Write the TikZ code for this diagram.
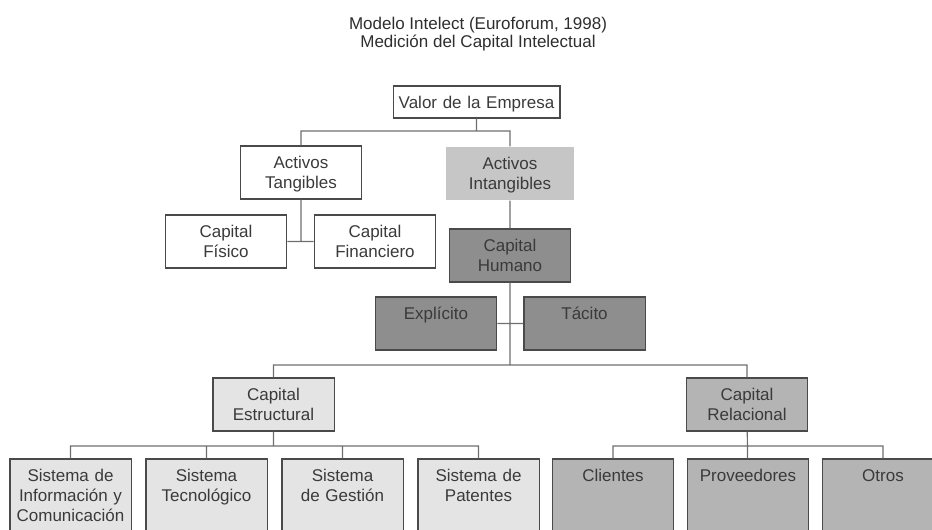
\documentclass[tikz,border=0pt]{standalone}
\usepackage{fontspec}
\setmainfont{Liberation Sans}
\usetikzlibrary{
  positioning, % for relative positioning of the boxes
}
\definecolor{borde}{HTML}{4A4A4A}
\definecolor{linea}{HTML}{6E6E6E}
\definecolor{texto}{HTML}{3A3A3A}
\definecolor{claro}{HTML}{E4E4E4}
\definecolor{medio}{HTML}{B4B4B4}
\definecolor{oscuro}{HTML}{8E8E8E}
\definecolor{intang}{HTML}{C6C6C6}
\tikzset{
  caja/.style={ % style for each box
    rectangle,draw=borde,line width=1pt, % drawn as a dark gray rectangle
    text width=91pt,align=center, % same width for every box
    inner sep=0pt, % no padding, sizes come from text height and depth
    text height=17pt,text depth=22.75pt, % text sits at the top of the box
    font=\fontsize{12.75}{15}\selectfont,text=texto,
  },
  estr/.style={ % structural capital boxes
    caja,fill=claro,
  },
  rel/.style={ % relational capital boxes
    caja,fill=medio,
  },
  hum/.style={ % human capital boxes
    caja,fill=oscuro,
  },
  hoja/.style={ % bottom row, cut off by the page
    text depth=43pt,
  },
  conn/.style={ % style for the connections
    draw=linea,line width=0.9pt,
  },
}
\begin{document}
\begin{tikzpicture}[x=0.75pt,y=-0.75pt,node distance=102pt]
	\useasboundingbox (0,0) rectangle (932,530);
	\clip (0,0) rectangle (932,530);
	
	\node (titulo) [align=center,font=\fontsize{12.75}{13.5}\selectfont,text=texto!80!black]
		at (478,34) {Modelo Intelect (Euroforum, 1998)\\Medición del Capital Intelectual};
	
	\node (valor) [caja,text width=125pt,text depth=7pt] at (476.5,102) {Valor de la Empresa};
	
	\node (tang) [caja] at (301,172.5) {Activos\\Tangibles};
	
	\node (intg) [caja,draw=none,fill=intang,text width=96pt] at (510,173.5) {Activos\\Intangibles};
	
	\node (fisico) [caja] at (226,241.5) {Capital\\Físico};
	
	\node (financ) [caja,right of=fisico,node distance=111.75pt] {Capital\\Financiero};
	
	\node (humano) [hum] at (510,255.5) {Capital\\Humano};
	
	\node (explic) [hum] at (436,323.5) {Explícito};
	
	\node (tacito) [hum,right of=explic,node distance=111.4pt] {Tácito};
	
	\node (estruc) [estr] at (273.5,404.5) {Capital\\Estructural};
	
	\node (relac) [rel] at (747,404.5) {Capital\\Relacional};
	
	\node (sinfo) [estr,hoja] at (70.5,499) {Sistema de\\Información y\\Comunicación};
	
	\node (stec) [estr,hoja,right of=sinfo] {Sistema\\Tecnológico};
	
	\node (sges) [estr,hoja,right of=stec] {Sistema\\de Gestión};
	
	\node (spat) [estr,hoja,right of=sges] {Sistema de\\Patentes};
	
	\node (clien) [rel,hoja] at (613,499) {Clientes};
	
	\node (prov) [rel,hoja,right of=clien,node distance=101.25pt] {Proveedores};
	
	\node (otros) [rel,hoja,right of=prov,node distance=101.25pt] {Otros};
	
	\coordinate (jv) at (476.5,131);
	\coordinate (jh) at (510,365);
	\coordinate (je) at (273.5,446);
	\coordinate (jr) at (747,446);
	
	\path[conn] (valor) -- (jv)
			(tang.north) |- (jv) -| (intg.north)
			(tang) -- (tang |- fisico)
			(fisico) -- (financ)
			(intg) -- (humano)
			(humano) -- (jh)
			(explic) -- (tacito)
			(estruc.north) |- (jh) -| (relac.north)
			(estruc) -- (je)
			(sinfo.north) |- (je) -| (spat.north)
			(stec) -- (stec |- je)
			(sges) -- (sges |- je)
			(relac) -- (prov)
			(clien.north) |- (jr) -| (otros.north);
\end{tikzpicture}
\end{document}
